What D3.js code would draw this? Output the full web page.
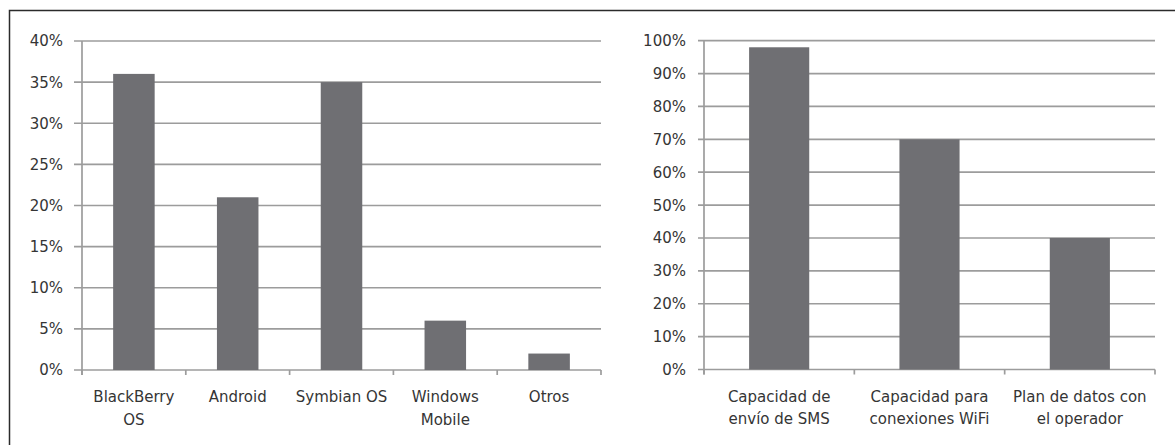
<!DOCTYPE html>
<meta charset="utf-8">
<head>
<style>
body { margin: 0; background: #fff; }
svg { display: block; }
text {
  font-family: "DejaVu Sans", sans-serif;
  font-size: 15px;
  fill: #353535;
}
.grid line { stroke: #9c9c9c; stroke-width: 1.7px; }
.axisline { stroke: #9c9c9c; stroke-width: 1.7px; }
.bar { fill: #6f6f73; }
</style>
<title>Sistemas operativos y capacidades</title>
</head>
<body>
<svg id="graphic" width="1175" height="445"></svg>
<script src="https://d3js.org/d3.v7.min.js"></script>
<script>
// left chart: sistema operativo
var osCategories = ["BlackBerry\nOS", "Android", "Symbian OS", "Windows\nMobile", "Otros"];
var osValues = [36, 21, 35, 6, 2];
var osTicks = [0, 5, 10, 15, 20, 25, 30, 35, 40];

// right chart: capacidades
var capCategories = ["Capacidad de\nenvío de SMS", "Capacidad para\nconexiones WiFi", "Plan de datos con\nel operador"];
var capValues = [98, 70, 40];
var capTicks = [0, 10, 20, 30, 40, 50, 60, 70, 80, 90, 100];

var svg = d3.select("svg");

// outer frame (right and bottom edges fall outside the picture)
svg.append("rect")
  .attr("x", 9.5).attr("y", 10.5)
  .attr("width", 1200).attr("height", 500)
  .attr("fill", "none")
  .attr("stroke", "#2b2b2b")
  .attr("stroke-width", 1.5);

function barChart(cats, vals, ticks, left, right, top, bottom, tickLen, labelRight) {
  var g = svg.append("g");

  // gap width like excel's 150%: bar is 0.4 of the category slot
  var x = d3.scaleBand()
    .domain(cats)
    .range([left, right])
    .paddingInner(0.6)
    .paddingOuter(0.3);

  var y = d3.scaleLinear()
    .domain([0, ticks[ticks.length - 1]])
    .range([bottom, top]);

  // gridlines with their little tick to the left of the axis
  g.append("g").attr("class", "grid")
    .selectAll("line")
    .data(ticks)
    .enter().append("line")
      .attr("x1", left - tickLen)
      .attr("x2", right)
      .attr("y1", function(d) { return y(d); })
      .attr("y2", function(d) { return y(d); });

  // y axis line
  g.append("line").attr("class", "axisline")
    .attr("x1", left).attr("x2", left)
    .attr("y1", top).attr("y2", bottom + 5);

  // x tick marks between the categories
  var half = (x.step() - x.bandwidth()) / 2;
  var edges = cats.map(function(c) { return x(c) - half; });
  edges.push(right);
  g.append("g").attr("class", "grid")
    .selectAll("line")
    .data(edges)
    .enter().append("line")
      .attr("x1", function(d) { return d; })
      .attr("x2", function(d) { return d; })
      .attr("y1", bottom)
      .attr("y2", bottom + 5);

  g.selectAll("rect.bar")
    .data(vals)
    .enter().append("rect")
      .attr("class", "bar")
      .attr("x", function(d, i) { return x(cats[i]); })
      .attr("width", x.bandwidth())
      .attr("y", function(d) { return y(d); })
      .attr("height", function(d) { return bottom - y(d); });

  // y labels
  g.selectAll("text.ylab")
    .data(ticks)
    .enter().append("text")
      .attr("class", "ylab")
      .attr("x", labelRight)
      .attr("y", function(d) { return y(d); })
      .attr("dy", "0.36em")
      .attr("text-anchor", "end")
      .text(function(d) { return d + "%"; });

  // category labels, one tspan per line
  var lab = g.selectAll("text.xlab")
    .data(cats)
    .enter().append("text")
      .attr("class", "xlab")
      .attr("text-anchor", "middle")
      .attr("y", bottom + 32);
  lab.each(function(d) {
    var t = d3.select(this);
    var cx = x(d) + x.bandwidth() / 2;
    d.split("\n").forEach(function(line, i) {
      t.append("tspan")
        .attr("x", cx)
        .attr("dy", i === 0 ? 0 : 22.5)
        .text(line);
    });
  });
}

barChart(osCategories, osValues, osTicks, 82, 601, 41, 370, 8, 63);
barChart(capCategories, capValues, capTicks, 704, 1155, 40.7, 369.5, 6, 686);
</script>
</body>
